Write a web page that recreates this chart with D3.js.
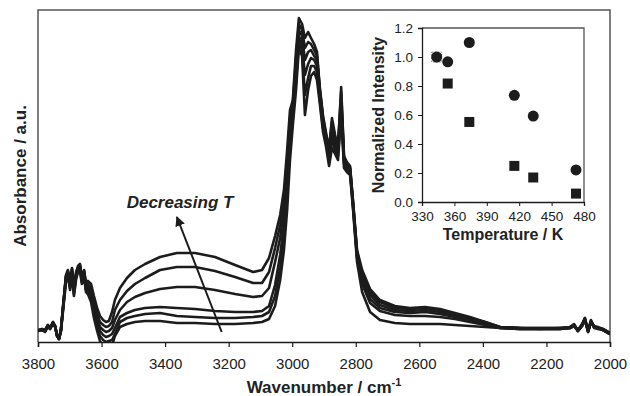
<!DOCTYPE html>
<html><head><meta charset="utf-8">
<script src="https://cdn.jsdelivr.net/npm/d3@7"></script>
<style>
html,body{margin:0;padding:0;background:#fff;}
svg{display:block;font-family:"Liberation Sans",Arial,sans-serif;}
</style></head>
<body>
<svg id="c" width="630" height="396"></svg>
<script>
// ---------- Main spectra data ----------
const wavenumbers = [3800,3787,3778,3769,3762,3753,3746,3740,3734,3728,3721,3712,3706,3699,3693,3687,3680,3674,3668,3662,3655,3649,3643,3633,3624,3614,3605,3595,3586,3577,3567,3558,3542,3520,3495,3463,3416,3363,3306,3243,3180,3123,3095,3073,3054,3038,3026,3016,3007,2998,2988,2979,2969,2960,2950,2941,2931,2922,2913,2903,2894,2884,2875,2865,2856,2846,2837,2828,2818,2809,2796,2780,2755,2724,2677,2629,2582,2535,2488,2441,2393,2346,2283,2220,2157,2126,2113,2101,2088,2079,2069,2060,2050,2038,2022,2000];

// absorbance (a.u.), lowest temperature first
const spec1 = [0.12,0.13,0.11,0.17,0.14,0.20,0.16,0.06,0.03,0.12,0.37,0.66,0.72,0.58,0.74,0.52,0.69,0.76,0.78,0.64,0.72,0.59,0.61,0.58,0.46,0.34,0.26,0.22,0.20,0.21,0.30,0.42,0.54,0.64,0.72,0.78,0.85,0.89,0.89,0.85,0.77,0.70,0.72,0.84,1.06,1.27,1.52,1.92,2.32,2.42,2.92,3.24,3.18,3.04,3.10,3.04,2.98,2.90,2.52,2.24,2.07,1.92,2.24,2.07,1.94,2.55,1.84,1.78,1.74,1.42,0.92,0.72,0.53,0.42,0.36,0.34,0.35,0.33,0.29,0.25,0.20,0.15,0.14,0.14,0.14,0.15,0.17,0.12,0.18,0.24,0.11,0.21,0.16,0.15,0.13,0.09];
const spec2 = [0.12,0.12,0.11,0.16,0.14,0.19,0.16,0.07,0.03,0.11,0.35,0.67,0.71,0.60,0.73,0.54,0.70,0.75,0.77,0.66,0.71,0.57,0.58,0.53,0.40,0.28,0.20,0.17,0.15,0.16,0.20,0.32,0.42,0.51,0.58,0.64,0.72,0.75,0.75,0.71,0.65,0.59,0.59,0.70,0.94,1.17,1.44,1.82,2.24,2.40,2.84,3.18,3.12,2.94,3.00,2.98,2.92,2.86,2.54,2.26,2.10,1.94,2.20,2.04,1.96,2.50,1.86,1.80,1.76,1.42,0.90,0.69,0.50,0.40,0.34,0.33,0.34,0.32,0.28,0.24,0.20,0.15,0.14,0.14,0.14,0.15,0.18,0.11,0.17,0.24,0.11,0.22,0.15,0.14,0.13,0.09];
const spec3 = [0.11,0.13,0.12,0.17,0.14,0.20,0.15,0.06,0.04,0.12,0.36,0.64,0.70,0.56,0.72,0.50,0.67,0.74,0.76,0.62,0.70,0.55,0.56,0.50,0.36,0.24,0.15,0.12,0.10,0.11,0.14,0.22,0.32,0.40,0.45,0.49,0.53,0.55,0.55,0.52,0.48,0.45,0.46,0.54,0.80,1.04,1.32,1.72,2.14,2.36,2.76,3.12,3.06,2.82,2.90,2.92,2.86,2.82,2.50,2.22,2.06,1.90,2.16,2.00,1.92,2.44,1.82,1.76,1.74,1.40,0.88,0.66,0.47,0.37,0.32,0.31,0.32,0.30,0.27,0.23,0.19,0.15,0.14,0.13,0.14,0.14,0.17,0.12,0.17,0.23,0.10,0.20,0.15,0.14,0.12,0.09];
const spec4 = [0.12,0.12,0.11,0.16,0.14,0.19,0.16,0.06,0.03,0.11,0.34,0.65,0.70,0.57,0.71,0.51,0.67,0.73,0.74,0.63,0.69,0.54,0.53,0.46,0.32,0.20,0.11,0.07,0.05,0.06,0.08,0.14,0.25,0.29,0.32,0.34,0.35,0.34,0.33,0.31,0.30,0.30,0.31,0.36,0.57,0.87,1.17,1.60,2.04,2.32,2.68,3.06,2.98,2.67,2.78,2.84,2.82,2.76,2.46,2.18,2.04,1.86,2.10,1.96,1.90,2.38,1.80,1.74,1.72,1.38,0.86,0.62,0.43,0.34,0.30,0.29,0.30,0.28,0.25,0.22,0.18,0.14,0.13,0.13,0.13,0.14,0.17,0.11,0.16,0.23,0.11,0.21,0.15,0.14,0.12,0.08];
const spec5 = [0.11,0.12,0.11,0.16,0.13,0.19,0.15,0.07,0.03,0.11,0.34,0.62,0.68,0.54,0.70,0.48,0.65,0.72,0.73,0.60,0.67,0.52,0.51,0.43,0.28,0.15,0.06,0.02,0.00,0.01,0.02,0.08,0.20,0.24,0.26,0.28,0.29,0.26,0.25,0.24,0.24,0.25,0.26,0.30,0.46,0.74,1.04,1.47,1.94,2.24,2.60,3.00,2.92,2.47,2.64,2.76,2.76,2.70,2.42,2.14,2.00,1.82,2.02,1.92,1.86,2.32,1.78,1.72,1.70,1.36,0.84,0.58,0.39,0.31,0.27,0.26,0.26,0.25,0.23,0.20,0.17,0.14,0.13,0.13,0.13,0.14,0.16,0.11,0.16,0.22,0.10,0.20,0.15,0.14,0.12,0.08];
const spec6 = [0.11,0.12,0.10,0.15,0.13,0.18,0.15,0.06,0.03,0.10,0.32,0.60,0.66,0.52,0.68,0.46,0.63,0.70,0.71,0.58,0.65,0.50,0.48,0.40,0.24,0.11,0.01,-0.04,-0.06,-0.05,-0.04,0.06,0.15,0.18,0.20,0.21,0.21,0.19,0.19,0.18,0.18,0.19,0.20,0.23,0.36,0.62,0.92,1.32,1.82,2.17,2.52,2.94,2.86,2.27,2.52,2.66,2.70,2.62,2.38,2.10,1.96,1.76,1.94,1.88,1.82,2.26,1.74,1.70,1.67,1.34,0.80,0.50,0.30,0.22,0.19,0.18,0.18,0.18,0.17,0.16,0.15,0.14,0.13,0.13,0.13,0.14,0.16,0.11,0.16,0.22,0.10,0.20,0.14,0.13,0.12,0.08];
const spectra = [spec1, spec2, spec3, spec4, spec5, spec6];

const xTicksMain = [3800,3600,3400,3200,3000,2800,2600,2400,2200,2000];

// ---------- Inset data ----------
const insetTemps = [343.6, 353.8, 373.8, 415.5, 433.0, 472.6];
const circleValues = [1.00, 0.967, 1.10, 0.736, 0.593, 0.221];
const squareValues = [1.00, 0.817, 0.552, 0.249, 0.169, 0.058];
const insetXTicks = [330,360,390,420,450,480];
const insetYTicks = [0.0,0.2,0.4,0.6,0.8,1.0,1.2];

// ---------- Drawing ----------
const svg = d3.select("#c");
const ink = "#1c1c1c";
const M = {left:38, top:10, right:610, bottom:342};

const x = d3.scaleLinear().domain([3800,2000]).range([M.left, M.right]);
const y = d3.scaleLinear().domain([0,3.32]).range([M.bottom, M.top]);

svg.append("clipPath").attr("id","plotclip")
  .append("rect").attr("x",M.left).attr("y",M.top)
  .attr("width",M.right-M.left).attr("height",M.bottom-M.top);

// frame
svg.append("path")
  .attr("d",`M${M.left},${M.bottom}V${M.top}H${M.right}V${M.bottom}`)
  .attr("fill","none").attr("stroke","#555").attr("stroke-width",1.5);

const line = d3.line().x((d,i)=>x(wavenumbers[i])).y(d=>y(d)).curve(d3.curveLinear);
svg.append("g").attr("clip-path","url(#plotclip)")
  .selectAll("path").data(spectra).join("path")
  .attr("d",line).attr("fill","none").attr("stroke",ink)
  .attr("stroke-width",2.6).attr("stroke-linejoin","round");

// bottom axis
const xAxis = d3.axisBottom(x).tickValues(xTicksMain).tickSize(5).tickPadding(11).tickFormat(d3.format("d"));
const gx = svg.append("g").attr("transform",`translate(0,${M.bottom})`).call(xAxis);
gx.select(".domain").attr("stroke",ink).attr("stroke-width",1.5);
gx.selectAll(".tick line").attr("stroke",ink).attr("stroke-width",1.2);
gx.selectAll(".tick text").attr("font-size",15).attr("fill","#222")
  .attr("font-family","'Liberation Sans',Arial,sans-serif");

// axis titles
const xt = svg.append("text").attr("x",(M.left+M.right)/2).attr("y",393)
  .attr("text-anchor","middle").attr("font-size",17).attr("font-weight","bold").attr("fill","#222");
xt.append("tspan").text("Wavenumber / cm");
xt.append("tspan").attr("dy",-7).attr("font-size",11).text("-1");

svg.append("text").attr("transform",`translate(26,${(M.top+M.bottom)/2}) rotate(-90)`)
  .attr("text-anchor","middle").attr("font-size",17).attr("font-weight","bold").attr("fill","#222")
  .text("Absorbance / a.u.");

// arrow
svg.append("defs").append("marker").attr("id","ah").attr("viewBox","0 0 10 10")
  .attr("refX",9).attr("refY",5).attr("markerWidth",5).attr("markerHeight",5)
  .attr("orient","auto").append("path").attr("d","M0,0L10,5L0,10z").attr("fill",ink);
svg.append("line").attr("x1",x(3222)).attr("y1",y(0.10)).attr("x2",x(3363)).attr("y2",y(1.25))
  .attr("stroke",ink).attr("stroke-width",2).attr("marker-end","url(#ah)");
svg.append("text").attr("x",x(3353)).attr("y",y(1.34)).attr("text-anchor","middle")
  .attr("font-size",17).attr("font-weight","bold").attr("font-style","italic").attr("fill","#222")
  .text("Decreasing T");

// ---------- Inset ----------
const I = {left:422, top:28, right:584, bottom:202};
const xi = d3.scaleLinear().domain([330,480]).range([I.left, I.right]);
const yi = d3.scaleLinear().domain([0,1.2]).range([I.bottom, I.top]);

svg.append("rect").attr("x",I.left).attr("y",I.top).attr("width",I.right-I.left)
  .attr("height",I.bottom-I.top).attr("fill","#fff");
svg.append("path").attr("d",`M${I.left},${I.top}H${I.right}V${I.bottom}`)
  .attr("fill","none").attr("stroke","#555").attr("stroke-width",1.3);

const gxi = svg.append("g").attr("transform",`translate(0,${I.bottom})`)
  .call(d3.axisBottom(xi).tickValues(insetXTicks).tickSize(4).tickPadding(5).tickFormat(d3.format("d")));
const gyi = svg.append("g").attr("transform",`translate(${I.left},0)`)
  .call(d3.axisLeft(yi).tickValues(insetYTicks).tickSize(4).tickPadding(5).tickFormat(d3.format(".1f")));
[gxi,gyi].forEach(g=>{
  g.select(".domain").attr("stroke",ink).attr("stroke-width",1.3);
  g.selectAll(".tick line").attr("stroke",ink);
  g.selectAll(".tick text").attr("font-size",13.5).attr("fill","#222")
    .attr("font-family","'Liberation Sans',Arial,sans-serif");
});

svg.append("text").attr("x",(I.left+I.right)/2).attr("y",240).attr("text-anchor","middle")
  .attr("font-size",16).attr("font-weight","bold").attr("fill","#222").text("Temperature / K");
svg.append("text").attr("transform",`translate(384,${(I.top+I.bottom)/2}) rotate(-90)`)
  .attr("text-anchor","middle").attr("font-size",16).attr("font-weight","bold").attr("fill","#222")
  .text("Normalized Intensity");

const sq = 10;
svg.append("g").selectAll("rect").data(squareValues).join("rect")
  .attr("x",(d,i)=>xi(insetTemps[i])-sq/2).attr("y",d=>yi(d)-sq/2)
  .attr("width",sq).attr("height",sq)
  .attr("fill",(d,i)=>i===0?"none":ink)
  .attr("stroke",(d,i)=>i===0?"#888":"none")
  .attr("stroke-dasharray","1.5,1.5");
svg.append("g").selectAll("circle").data(circleValues).join("circle")
  .attr("cx",(d,i)=>xi(insetTemps[i])).attr("cy",d=>yi(d)).attr("r",5.5).attr("fill",ink);
</script>
</body></html>
